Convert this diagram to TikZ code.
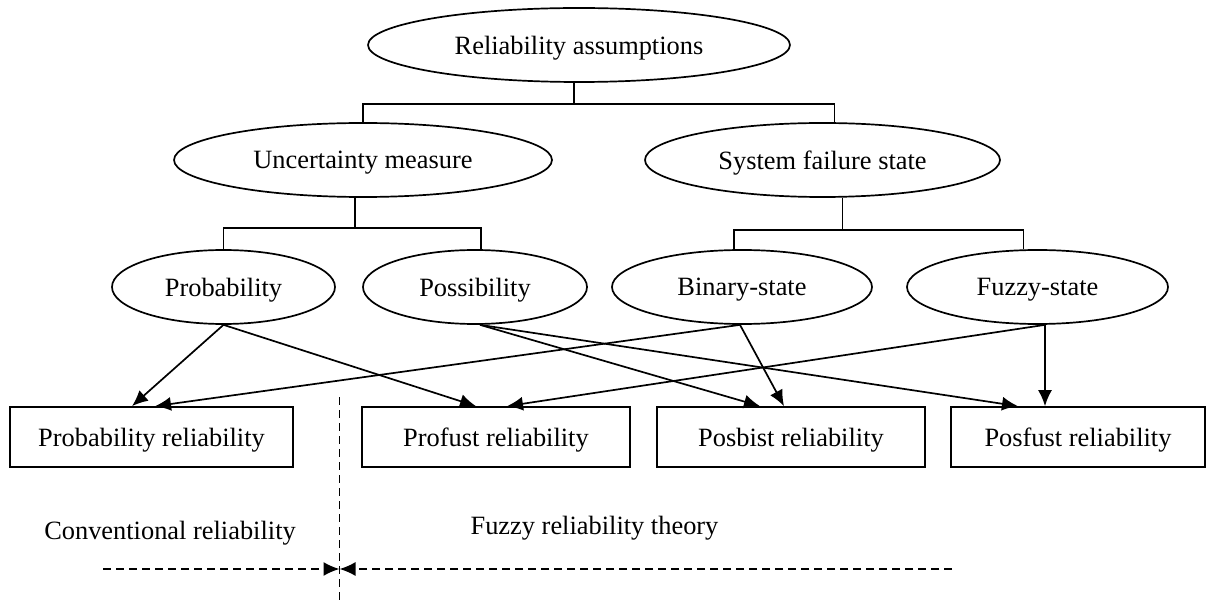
\documentclass[tikz,border=0pt]{standalone}
\usepackage{fontspec}
\setmainfont{Liberation Serif}
\usetikzlibrary{shapes.geometric,arrows.meta}

\begin{document}
\begin{tikzpicture}[x=0.5pt, y=-0.5pt, line width=0.85pt,
    every node/.style={font=\fontsize{13.2}{15}\selectfont},
    oval/.style={draw, ellipse, minimum height=37pt, inner sep=0pt, text depth=0pt},
    rbox/.style={draw, rectangle, minimum width=134pt, minimum height=30pt, inner sep=0pt, text depth=0pt},
    arr/.style={-{Latex[length=8pt,width=7pt]}},
    dsh/.style={dash pattern=on 4pt off 2.5pt}]
    \useasboundingbox (0,0) rectangle (1216,604);
    \node[oval, minimum width=211pt] (RA) at (579,45) {Reliability assumptions};
    \node[oval, minimum width=189pt] (UM) at (363,160) {Uncertainty measure};
    \node[oval, minimum width=177.5pt] (SF) at (822.5,160) {System failure state};
    \node[oval, minimum width=111.5pt] (Prob) at (223.5,287) {Probability};
    \node[oval, minimum width=112pt] (Poss) at (475,287) {Possibility};
    \node[oval, minimum width=130pt] (Bin) at (742,287) {Binary-state};
    \node[oval, minimum width=130.5pt] (Fuz) at (1037.5,287) {Fuzzy-state};
    \node[rbox, minimum width=141.5pt] (PR) at (151.5,437) {Probability reliability};
    \node[rbox] (PF) at (496,437) {Profust reliability};
    \node[rbox] (PB) at (791,437) {Posbist reliability};
    \node[rbox, minimum width=127pt] (PS) at (1078,437) {Posfust reliability};
    % tree
    \draw ([xshift=-2.5pt]RA.south) -- ++(0,21) -| (UM.north);
    \draw ([xshift=-2.5pt]RA.south) ++(0,21) -| ([xshift=6pt]SF.north);
    \draw ([xshift=-4pt]UM.south) -- ++(0,30) -| (Prob.north);
    \draw ([xshift=-4pt]UM.south) ++(0,30) -| ([xshift=3pt]Poss.north);
    \draw ([xshift=10pt]SF.south) -- ++(0,32) -| ([xshift=-4pt]Bin.north);
    \draw ([xshift=10pt]SF.south) ++(0,32) -| ([xshift=-7pt]Fuz.north);
    % arrows
    \draw[arr] (Prob.south) -- ([xshift=-9.75pt]PR.north);
    \draw[arr] (Prob.south) -- ([xshift=-10pt]PF.north);
    \draw[arr] ([xshift=2.5pt]Poss.south) -- ([xshift=-15.5pt]PB.north);
    \draw[arr] ([xshift=2.5pt]Poss.south) -- ([xshift=-30pt]PS.north);
    \draw[arr] ([xshift=-1pt]Bin.south) -- ([xshift=1.75pt]PR.north);
    \draw[arr] ([xshift=-1pt]Bin.south) -- ([xshift=-3.5pt]PB.north);
    \draw[arr] ([xshift=3.75pt]Fuz.south) -- ([xshift=5.5pt]PF.north);
    \draw[arr] ([xshift=3.75pt]Fuz.south) -- ([xshift=-16.5pt]PS.north);
    % border
    \coordinate (vtop) at (339.5,397);
    \coordinate (vbot) at (339.5,604);
    \coordinate (mid) at (339.5,569);
    \coordinate (L) at (103,569);
    \coordinate (R) at (952,569);
    \draw[dsh] (vtop) -- (vbot);
    \draw[dsh, arr] (L) -- (mid);
    \draw[dsh, arr] (R) -- (mid);
    \node (CR) at (170,533) {Conventional reliability};
    \node (FR) at (594.5,528) {Fuzzy reliability theory};
\end{tikzpicture}
\end{document}
